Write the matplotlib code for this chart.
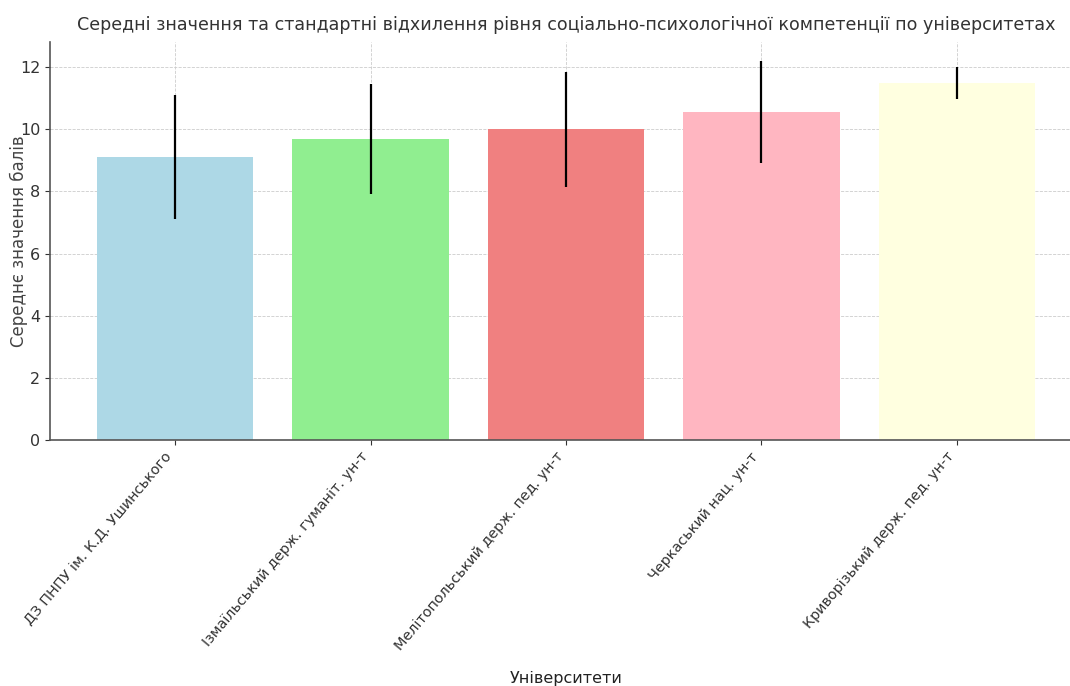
import matplotlib
matplotlib.use("Agg")
import matplotlib.pyplot as plt

# дані з діаграми
universities = [
    "ДЗ ПНПУ ім. К.Д. Ушинського",
    "Ізмаїльський держ. гуманіт. ун-т",
    "Мелітопольський держ. пед. ун-т",
    "Черкаський нац. ун-т",
    "Криворізький держ. пед. ун-т",
]
means = [9.1, 9.68, 10.0, 10.55, 11.5]
stds = [2.0, 1.77, 1.85, 1.65, 0.52]
colors = ["lightblue", "lightgreen", "lightcoral", "lightpink", "lightyellow"]

fig = plt.figure(figsize=(10.70, 6.86), dpi=100)
ax = fig.add_axes([50 / 1070, (686 - 440) / 686, 1032 / 1070, 398 / 686])

ax.bar(universities, means, yerr=stds, color=colors, ecolor="black",
       error_kw={"elinewidth": 1.6}, capsize=0, zorder=2)

ax.set_title("Середні значення та стандартні відхилення рівня соціально-психологічної компетенції по університетах",
             fontsize=12.6, color="#333333", pad=9)
ax.set_xlabel("Університети", fontsize=11.5, color="#222222", labelpad=13)
ax.set_ylabel("Середнє значення балів", fontsize=12, color="#444444")
ax.yaxis.set_label_coords(-0.021, 0.5)
plt.xticks(rotation=50, ha="right", fontsize=10.4)
plt.yticks(fontsize=11.5)

ax.grid(True, linestyle="--", color="#cccccc", linewidth=0.6, zorder=0)
ax.set_axisbelow(True)
ax.spines["top"].set_visible(False)
ax.spines["right"].set_visible(False)
ax.spines["left"].set_color("#555555")
ax.spines["bottom"].set_color("#555555")
ax.spines["left"].set_linewidth(1.2)
ax.spines["bottom"].set_linewidth(1.2)
ax.tick_params(colors="#333333")

plt.savefig("out.png", dpi=100)
